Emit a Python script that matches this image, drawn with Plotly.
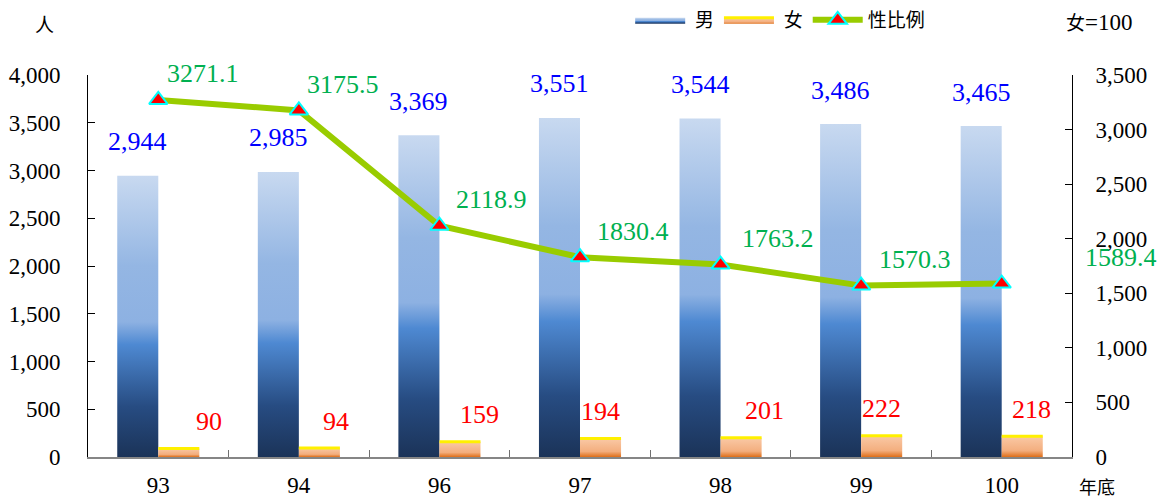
import plotly.graph_objects as go

# ---- data ----
years = ["93", "94", "96", "97", "98", "99", "100"]
male = [2944, 2985, 3369, 3551, 3544, 3486, 3465]
female = [90, 94, 159, 194, 201, 222, 218]
sex_ratio = [3271.1, 3175.5, 2118.9, 1830.4, 1763.2, 1570.3, 1589.4]

# ---- style ----
BAR_W = 0.292
FONT = "Liberation Serif, Noto Sans CJK TC, serif"
MALE_SCALE = [[0.0, "#1B3358"], [0.18, "#274C82"], [0.40, "#4E89D2"],
              [0.44, "#6E9DDA"], [0.48, "#8DB1E2"], [0.68, "#94B6E3"],
              [1.0, "#C8D9F0"]]
FEMALE_SCALE = [[0.0, "#DE6E18"], [0.3, "#F3AE7E"], [1.0, "#FAC9A6"]]
ratio_dx = [45, 44, 52, 53, 57, 54, 119]      # label offsets for the ratio line
female_dx = [30, 17, 20, 0, 23, 0, 9]         # label offsets for female bars
NBSP = "\u00a0"

fig = go.Figure()

# legend entries
fig.add_trace(go.Scatter(x=[None], y=[None], name=NBSP + "男", mode="lines",
                         fill="toself", line=dict(width=0),
                         fillgradient=dict(type="vertical", colorscale=MALE_SCALE)))
fig.add_trace(go.Scatter(x=[None], y=[None], name=NBSP + "女", mode="lines",
                         fill="toself", line=dict(width=3, color="#FFF000"),
                         fillgradient=dict(type="vertical", colorscale=FEMALE_SCALE)))

# male bars (left half of each category)
for i, v in enumerate(male):
    fig.add_trace(go.Scatter(
        x=[i - BAR_W, i - BAR_W, i, i], y=[0, v, v, 0],
        mode="lines", fill="toself", line=dict(width=0),
        fillgradient=dict(type="vertical", colorscale=MALE_SCALE),
        showlegend=False, hoverinfo="skip"))

# female bars (right half of each category) with a yellow top edge
for i, v in enumerate(female):
    fig.add_trace(go.Scatter(
        x=[i, i, i + BAR_W, i + BAR_W], y=[0, v, v, 0],
        mode="lines", fill="toself", line=dict(width=0),
        fillgradient=dict(type="vertical", colorscale=FEMALE_SCALE),
        showlegend=False, hoverinfo="skip"))
    fig.add_trace(go.Scatter(
        x=[i, i + BAR_W], y=[v, v], mode="lines",
        line=dict(width=3, color="#FFF000"),
        showlegend=False, hoverinfo="skip"))

# sex ratio line on the secondary axis
fig.add_trace(go.Scatter(
    x=list(range(len(years))), y=sex_ratio, name="性比例", yaxis="y2",
    mode="lines+markers",
    line=dict(color="#99CC00", width=6),
    marker=dict(symbol="triangle-up", size=16, color="#FF0000",
                line=dict(color="#00FFFF", width=2))))

ann = []
for i, v in enumerate(male):
    ann.append(dict(x=i - BAR_W / 2, y=v, xref="x", yref="y", text=f"{v:,}",
                    showarrow=False, yshift=34,
                    font=dict(family=FONT, size=26, color="#0000FF")))
for i, v in enumerate(female):
    ann.append(dict(x=i + BAR_W / 2, y=v, xref="x", yref="y", text=f"{v:,}",
                    showarrow=False, yshift=27, xshift=female_dx[i],
                    font=dict(family=FONT, size=26, color="#FF0000")))
for i, v in enumerate(sex_ratio):
    ann.append(dict(x=i, y=v, xref="x", yref="y2", text=f"{v:.1f}",
                    showarrow=False, yshift=26, xshift=ratio_dx[i],
                    font=dict(family=FONT, size=26, color="#00B050")))

# unit labels, placed in pixels relative to the plot corners
ann += [
    dict(x=0, y=1, xref="paper", yref="paper", text="人", xanchor="left",
         yanchor="middle", xshift=-55, yshift=50, showarrow=False,
         font=dict(family=FONT, size=19, color="#000000")),
    dict(x=1, y=1, xref="paper", yref="paper",
         text='<span style="font-size:19px">女</span>=100', xanchor="left",
         yanchor="middle", xshift=-8, yshift=53, showarrow=False,
         font=dict(family=FONT, size=23, color="#000000")),
    dict(x=1, y=0, xref="paper", yref="paper", text="年底", xanchor="left",
         yanchor="middle", xshift=5, yshift=-31, showarrow=False,
         font=dict(family=FONT, size=18, color="#000000")),
]

fig.update_layout(
    width=1157, height=500,
    margin=dict(l=88, r=85, t=75, b=43, autoexpand=False),
    paper_bgcolor="white", plot_bgcolor="white",
    font=dict(family=FONT, size=23, color="#000000"),
    showlegend=True,
    legend=dict(orientation="h", x=0.551, y=1.144, xanchor="left", yanchor="middle",
                itemwidth=50, font=dict(family=FONT, size=19),
                bgcolor="rgba(0,0,0,0)"),
    xaxis=dict(range=[-0.5, 6.5], tickmode="array",
               tickvals=list(range(len(years))), ticktext=years,
               ticks="", showline=True, linecolor="#868686", linewidth=2,
               showgrid=False, zeroline=False, ticklabelstandoff=6,
               minor=dict(tickmode="array",
                          tickvals=[k + 0.5 for k in range(len(years) - 1)],
                          ticks="inside", ticklen=7, tickcolor="#707070",
                          tickwidth=1, showgrid=False)),
    yaxis=dict(range=[0, 4000], dtick=500, tickformat=",", ticks="inside",
               ticklen=7, tickcolor="#000000", showline=True,
               linecolor="#000000", linewidth=1, showgrid=False,
               zeroline=False, ticklabelstandoff=22),
    yaxis2=dict(range=[0, 3500], dtick=500, tickformat=",", ticks="inside",
                ticklen=7, tickcolor="#000000", showline=True,
                linecolor="#000000", linewidth=1, showgrid=False,
                zeroline=False, overlaying="y", side="right",
                ticklabelstandoff=18),
    annotations=ann,
)

fig.write_html("out.html")
